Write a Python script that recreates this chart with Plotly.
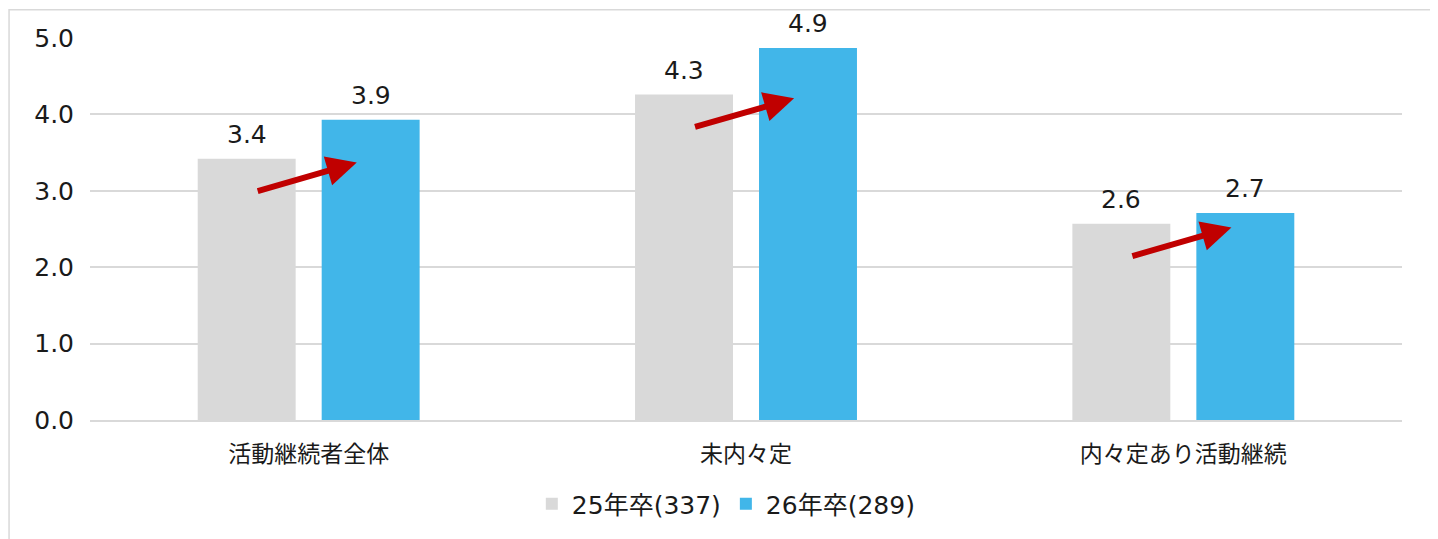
import plotly.graph_objects as go

categories = ["活動継続者全体", "未内々定", "内々定あり活動継続"]
series_names = ["25年卒(337)", "26年卒(289)"]
values_25 = [3.42, 4.26, 2.57]
values_26 = [3.93, 4.87, 2.71]
y_ticks = [0, 1, 2, 3, 4, 5]

FONT = "DejaVu Sans, Noto Sans CJK JP"
CJK = "Noto Sans CJK JP"
GRAY = "#D9D9D9"
BLUE = "#41B6E9"
RED = "#C00000"
TXT = "#1a1a1a"

fig = go.Figure()
x_idx = list(range(len(categories)))
for name, vals, col in [(series_names[0], values_25, GRAY), (series_names[1], values_26, BLUE)]:
    fig.add_trace(go.Bar(
        x=x_idx, y=vals, name=name, marker=dict(color=col, line=dict(width=0)),
        cliponaxis=False,
    ))

# value labels above bars
for vals, shift in [(values_25, -62), (values_26, 62)]:
    for i, v in enumerate(vals):
        fig.add_annotation(x=i, y=v, xref="x", yref="y", text=f"{v:.1f}",
                           showarrow=False, xshift=shift, yshift=8, yanchor="bottom",
                           font=dict(size=25, color=TXT, family=FONT))

# red arrows from the 25 bar toward the 26 bar
for i, (a, b) in enumerate(zip(values_25, values_26)):
    fig.add_annotation(
        x=i + 0.11, y=a - 0.05, ax=i - 0.12, ay=a - 0.43,
        xref="x", yref="y", axref="x", ayref="y",
        text="", showarrow=True, arrowhead=2, arrowsize=1.0, arrowwidth=6,
        arrowcolor=RED, standoff=0, startstandoff=0,
    )

fig.add_shape(type="rect", xref="paper", yref="paper",
              x0=-0.0617, x1=1.0229, y0=-0.45, y1=1.074,
              line=dict(color="#D9D9D9", width=1.5), layer="below")

fig.update_layout(
    width=1430, height=531,
    margin=dict(l=82, r=36, t=30, b=114),
    paper_bgcolor="white", plot_bgcolor="white",
    barmode="group", bargap=0.433, bargroupgap=0.21,
    font=dict(family=FONT, color=TXT),
    showlegend=True,
    legend=dict(orientation="h", x=0.485, xanchor="center", y=-0.16, yanchor="top",
                font=dict(size=25, family=FONT), traceorder="normal", itemwidth=30),
    xaxis=dict(tickmode="array", tickvals=x_idx, ticktext=categories,
               range=[-0.5, 2.5], showline=True, linecolor="#D9D9D9", linewidth=1.5,
               ticks="outside", ticklen=13, tickcolor="rgba(0,0,0,0)",
               tickfont=dict(size=23, family=CJK, color=TXT), showgrid=False,
               automargin=False),
    yaxis=dict(range=[0, 5], tickvals=y_ticks, ticktext=[f"{t:.1f}" for t in y_ticks],
               showgrid=True, gridcolor="#D9D9D9", gridwidth=1.5, zeroline=False,
               tickfont=dict(size=25, family=FONT, color=TXT), ticks="outside", ticklen=10,
               tickcolor="rgba(0,0,0,0)", showline=False, automargin=False),
)

fig.write_html("out.html")
